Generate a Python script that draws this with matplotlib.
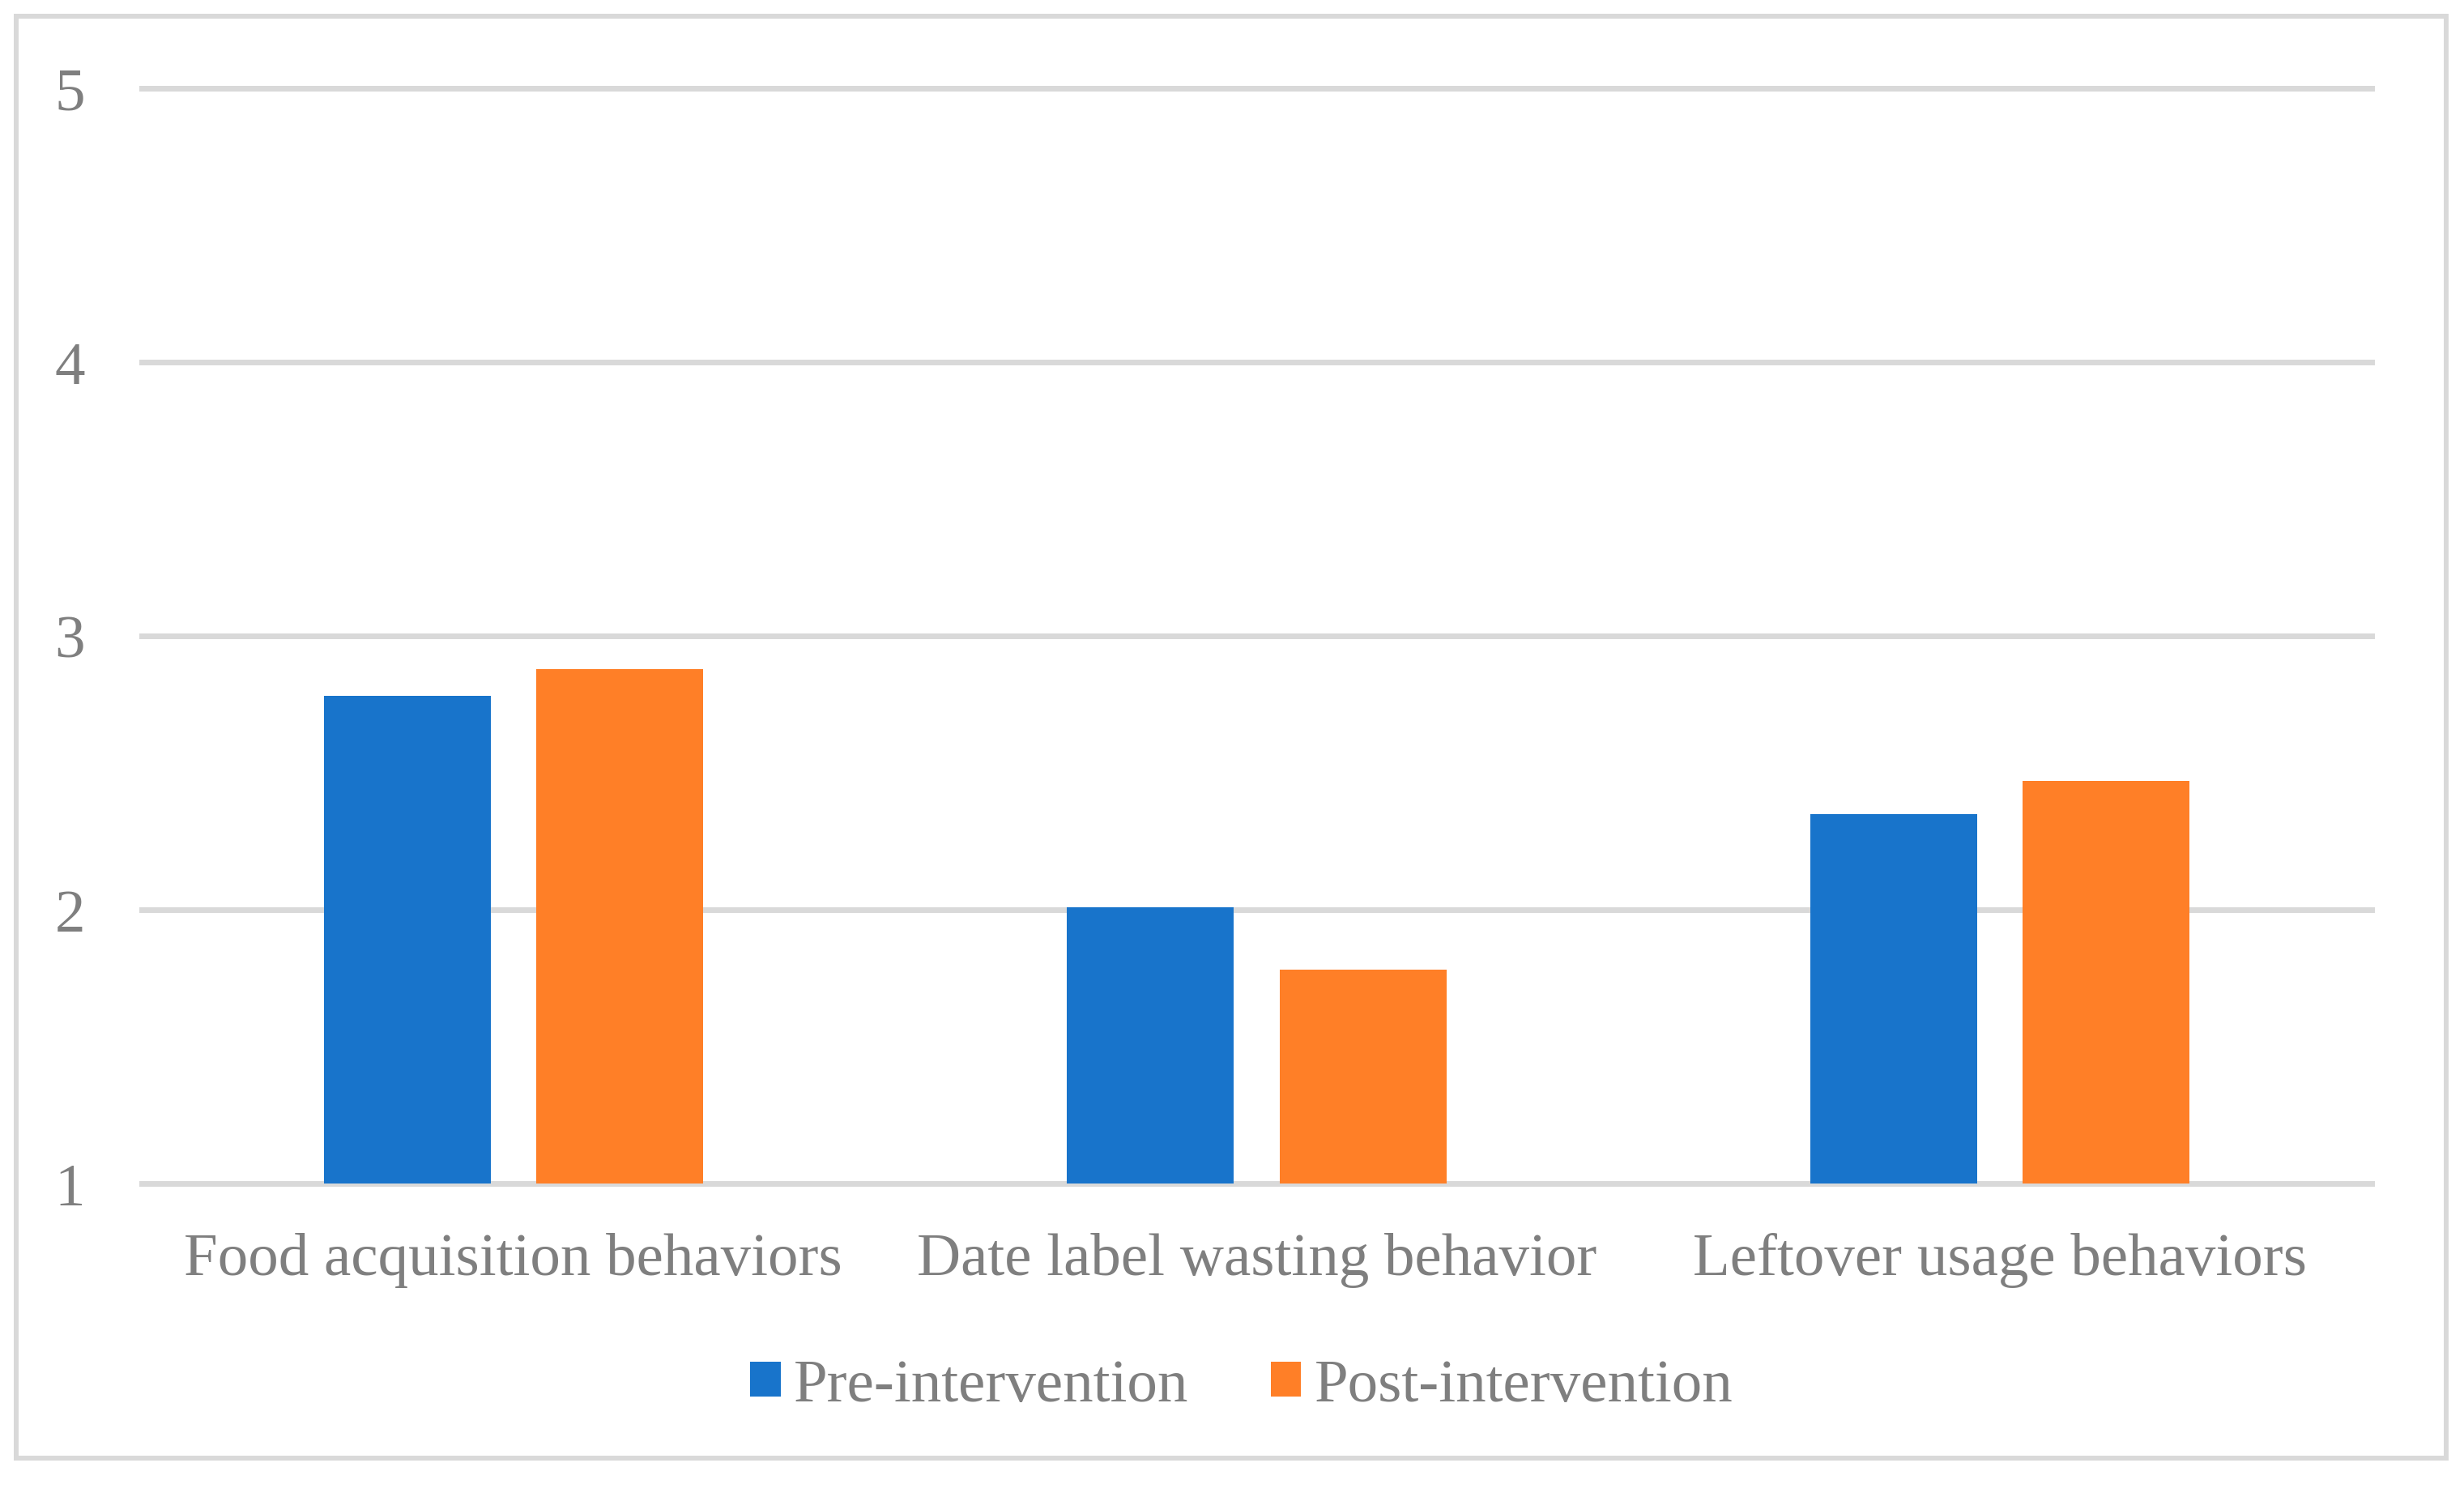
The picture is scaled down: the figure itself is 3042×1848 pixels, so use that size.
import matplotlib.pyplot as plt
import numpy as np
from matplotlib.patches import Rectangle
from matplotlib.transforms import blended_transform_factory

categories = ["Food acquisition behaviors", "Date label wasting behavior", "Leftover usage behaviors"]
pre_values = [2.78, 2.01, 2.35]
post_values = [2.88, 1.78, 2.47]
series_names = ["Pre-intervention", "Post-intervention"]
y_ticks = [1, 2, 3, 4, 5]

W, H, DPI = 3042, 1849, 200
TEXT = "#7F7F7F"
GRID = "#D9D9D9"
BLUE = "#1874CB"
ORANGE = "#FF7F27"
FS = 27


def px(p):
    # pixels -> points
    return p / DPI * 72


plt.rcParams["font.family"] = ["Liberation Serif", "DejaVu Serif"]

fig = plt.figure(figsize=(W / DPI, H / DPI), dpi=DPI)
ax = fig.add_axes([175 / W, 1 - 1462 / H, (2928 - 175) / W, (1462 - 110) / H])

x = np.arange(len(categories))
bar_w = 0.2245
offset = 0.143
ax.bar(x - offset, pre_values, bar_w, bottom=0, color=BLUE, label=series_names[0], zorder=3)
ax.bar(x + offset, post_values, bar_w, bottom=0, color=ORANGE, label=series_names[1], zorder=3)

ax.set_xlim(-0.5, len(categories) - 0.5)
ax.set_ylim(1, 5)
ax.set_yticks(y_ticks)
ax.set_yticklabels([str(t) for t in y_ticks])
ax.set_xticks([])
for t in y_ticks:
    ax.axhline(t, color=GRID, linewidth=px(7), zorder=1, clip_on=False)
for s in ax.spines.values():
    s.set_visible(False)
ax.tick_params(axis="y", length=0, pad=px(70), labelsize=FS, labelcolor=TEXT)

trans = blended_transform_factory(ax.transData, fig.transFigure)
for i, name in enumerate(categories):
    ax.text(i, 1 - 1574 / H, name, transform=trans, ha="center", va="baseline",
            fontsize=FS, color=TEXT)

leg = fig.legend(loc="center", bbox_to_anchor=(1533 / W, 1 - 1712 / H), ncol=2,
                 frameon=False, fontsize=FS, handlelength=0.5, handleheight=0.5,
                 handletextpad=0.22, columnspacing=1.35, borderpad=0)
for t in leg.get_texts():
    t.set_color(TEXT)

fig.patches.append(Rectangle((19.5 / W, 1 - 1801 / H), (3019.5 - 19.5) / W, (1801 - 20.5) / H,
                             transform=fig.transFigure, fill=False, edgecolor=GRID,
                             linewidth=px(6)))

fig.savefig("out.png", dpi=DPI, facecolor="white")
